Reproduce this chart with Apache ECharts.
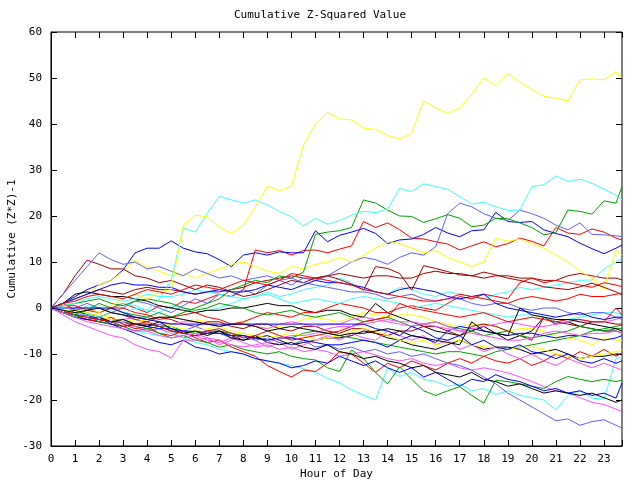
<!DOCTYPE html>
<html><head><meta charset="utf-8">
<script src="https://cdn.jsdelivr.net/npm/echarts@6/dist/echarts.min.js"></script>
<style>html,body{margin:0;padding:0;background:#fff}#c{width:640px;height:480px}</style>
</head><body><div id="c"></div>
<script>
const hours = [0,0.5,1,1.5,2,2.5,3,3.5,4,4.5,5,5.5,6,6.5,7,7.5,8,8.5,9,9.5,10,10.5,11,11.5,12,12.5,13,13.5,14,14.5,15,15.5,16,16.5,17,17.5,18,18.5,19,19.5,20,20.5,21,21.5,22,22.5,23,23.5,23.75];
const xTickLabels = ['0','1','2','3','4','5','6','7','8','9','10','11','12','13','14','15','16','17','18','19','20','21','22','23'];
const yTickLabels = ['-30','-20','-10','0','10','20','30','40','50','60'];

const yellowTop = [0,-0.5,-1,0,-1,0.5,2,3,2,3.5, 4,18,20.2,19.8,17.5,16.2,18,22,26.5,25.5, 26.4,35.4,40,42.5,41.1,40.9,39.1,38.8,37.5,36.7, 38,45,43.5,42.3,43.5,46.5,50,48.3,51,49, 47.5,46,45.6,45,49.6,49.8,49.6,51.4,50];
const cyanTop = [0,-0.5,-1,-1.5,-2,-1,-1.5,0,-0.5,2, 6,17.4,16.5,20.6,24.3,23.5,22.8,23.5,22.4,21, 19.8,17.8,19.5,18.2,19,20.2,21,20.7,21.5,26, 25.3,27,26.4,25.8,24.2,22.6,23,22,21.2,21.3, 26.4,26.8,28.7,27.5,28,27.1,25.8,24.5,23.5];
const greenTop = [0,-1,-1.5,-0.5,1,0,-1,-1.5,-2,-1, -2,-1,0,1,2,4,5,6,5.5,7, 6.5,7.8,16,16.5,16.8,17.5,23.5,22.8,21.3,20, 19.9,18.6,19.4,20.3,19.5,17.7,18,19.5,19.4,18.5, 17.5,15.9,16.4,21.3,21,20.4,23.3,22.8,26.4];
const blueA = [0,1,2.5,4,5,6,8.3,12,13,13, 14.6,13,12.2,11.8,10.5,9,11.5,12,11.5,12.2, 12,12,16.8,14.4,15.8,16.5,17.3,16.2,14,14.8, 15,16,17.5,16.3,15.5,16.8,17,20.8,18.8,18.6, 18.8,17,16.2,15.5,14.1,12.9,11.8,13,13.7];
const slateB = [0,-1,0,1,0,-1,0,1.5,1,0, -1,0.5,2,1,3,2.5,4,3,5,6, 5,6.5,6,7,8.5,10,11,10.5,9.5,11, 12,11.5,13.3,20.5,22.8,22,20.5,19.5,19,21.3, 20.5,19.5,18,17,18.5,16,15.9,15.7,15.5];
const redA = [0,1,-0.5,0,-1,0,1,0,-1,0.5, 0,1.5,1,2,3,2.5,3.9,12.6,12,12.5, 11.5,12.5,12.6,12,12.8,13.5,18.8,17.5,18.5,17, 15.2,15,14.4,13.9,12.6,13.5,14.4,13.3,14,15.2, 14.5,13.5,17.5,16.3,16,17.2,16.5,15.2,14.8];
const darkRedA = [0,3,7,10.4,9.5,8.5,8.5,7,6.5,5.5, 6,5,4,5,4.5,3.5,2.5,3,4,5, 6,5.5,6.5,7,6.2,5.2,3.9,9,8.6,7.5, 3.9,9.2,8.6,7.9,7.2,7,7.8,7.2,6.5,6, 5.4,4.6,4.3,4,4.6,5.4,4.5,3.5,2.8];
const blueFlat = [0,0,0,0,0,0,-1,-2,-2.5,-3, -3.5,-3.5,-3.5,-3.5,-3.5,-3.5,-3.5,-3.5,-3.5,-3.5, -3.5,-3.5,-3.5,-3.5,-3.5,-3.5,-3.5,-4.5,-5,-6, -4,-5,-6.5,-7,-6,-8,-7,-8.5,-9,-8, -9.5,-10,-11,-10,-11.5,-12,-11,-12,-11.5];
const redLow = [0,-1,-1.5,-2.5,-3,-2,-3.5,-4.5,-4,-5.5, -6,-5,-6.5,-7.5,-7,-8.5,-9.5,-10.5,-12.5,-13.8, -15,-13.5,-13.8,-12,-9.5,-10,-12,-14,-12,-13, -11.5,-12.5,-13.5,-12,-11,-12,-10.5,-11.5,-12,-11, -12.5,-11.5,-10,-11,-9.5,-10.5,-9,-10.5,-9.8];
const cyanLow = [0,-0.5,-1.5,-2,-3,-2.5,-4,-5,-5.5,-6, -5,-6.5,-7.5,-8,-9,-9.5,-10,-11,-11.5,-12, -12.5,-13.2,-14,-15.3,-16.3,-17.8,-19,-20,-13,-14.9, -14,-15.5,-16,-17,-16.5,-18,-17.5,-18.8,-18,-19, -19.5,-20,-22.2,-19,-18,-19.6,-19.8,-11,-10.6];
const greenLow = [0,-1,-2,-1.5,-3,-3.5,-4,-5,-4.5,-5.5, -6.5,-6,-7,-7.5,-8.5,-8,-9,-9.5,-10,-9.5, -10.5,-11,-11.3,-13,-13.8,-9.1,-11,-14,-16.5,-12.8, -15.5,-18,-19,-18,-17.1,-19,-20.7,-15.7,-16,-16.5, -17,-17.5,-16,-14.9,-15.5,-16,-15.5,-16,-15.7];
const magentaLow = [0,-1,-1.5,-2,-3,-2.5,-3.5,-4,-5,-4.5, -5.5,-6.5,-6,-7,-7.5,-6.5,-7.5,-8.5,-8,-9, -8.5,-9.5,-9,-9.5,-10.5,-10,-9.5,-10.2,-11,-11.5, -11,-12,-12.5,-12,-13,-13.5,-13,-13.5,-14.1,-15, -16,-17.1,-18,-18.5,-19.5,-20.5,-21,-22,-22.5];
const magenta2 = [0,-1.5,-3,-4,-5,-6,-6.5,-8,-9,-9.5, -10.9,-7,-7,-6.5,-8,-7,-6,-7,-8.5,-7.5, -9,-8,-7,-6,-7,-5.5,-6.5,-7,-5,-6, -7,-6,-8,-7,-9,-8,-9.5,-8.5,-10,-11, -10,-11.5,-12.5,-11,-12,-13,-12,-13,-13.5];
const slateLow = [0,-0.5,-1.5,-1,-2,-3,-2.5,-3.5,-4,-3.5, -4.5,-5,-4,-5,-5.5,-6.5,-6,-7,-6.5,-7.5, -8,-7,-8.5,-8,-9,-8.5,-9.5,-9,-10,-9.5, -10.5,-10,-11,-12,-12.5,-13.5,-15,-16.5,-18.5,-20, -21.5,-23,-24.5,-24.1,-25.5,-24.7,-24.3,-25.5,-26.1];
const blackLow = [0,-1,-0.5,-1.5,-2,-3,-2.5,-3.5,-4,-3, -4.5,-5.5,-5,-6,-5,-6.5,-7,-6,-7.5,-8, -7.5,-8.5,-9,-8,-9.5,-10,-11,-10.5,-11.5,-12, -13,-12.5,-14,-14.5,-15,-14,-15.5,-16,-17,-16.5, -17.5,-18.5,-18,-18.5,-19,-18.5,-19.5,-20.5,-20];
const blueLow = [0,-1,-2,-2.5,-2,-3.5,-4.5,-5.5,-6.5,-7.5, -8,-7,-8.5,-9,-10,-9.5,-10,-11,-11.5,-12, -13,-12.5,-11.5,-12,-10.5,-11.5,-12.5,-11.5,-13,-14, -13,-15,-14,-15.5,-17,-15.5,-16,-14.5,-15.5,-16, -17,-18,-17.5,-18.5,-18,-19,-18.5,-19.6,-16.3];
const cyan2 = [0,-0.5,-1,0.5,0,-0.5,1,0.5,-0.5,-1, 0.5,0,-1,-0.5,0,1,2,2.5,3.5,2.5, 3,4,4.5,5,6.5,5.5,4,3.5,3,4.5, 4,3,2.5,3.5,3,2.5,2,3,3.5,4.5, 4,4.5,5,5.5,6,6.1,8.5,10,10.8];
const yellow2 = [0,1,2,3,5,6,8,10.4,9,8, 7,7.5,6.5,7.5,8.5,9.5,10,9,8,7.5, 9,8.5,9.5,10,11,10,11.5,13,14.5,14, 13,12,12.5,11,10,9,10,15.2,14.5,15, 14,13,11.5,10,8,6.5,4,12.6,11.5];
const redMid = [0,0.5,0.5,-0.5,-1,0,0,-1,-1.5,-2.5, -2,-1.5,-1,-2,-2.5,-3.5,-3,-2,-1,-1.5, -2,-1,-1,0,1,0.5,0,-1,-1,0, 0.5,0,-0.5,1,2.5,2,3,2.5,2,5.5, 6.5,5.5,6,5.5,5,4.5,5.5,5,4.6];
const darkRed2 = [0,1,2,3,4,3.5,3,4,4.5,4, 4,3.5,3,3.5,3.5,4,4.5,5.5,6,6.5, 7,6.5,6.5,7,7.5,7,6.5,7,7,6.5, 6.5,7.5,8,7.5,7.5,7,6.5,7,7,6.5, 6.5,6,6,7,7.5,7,6.5,6.5,6.1];
const darkRed3 = [0,-0.5,-1,-1.5,-2,-1,-1.5,-2.5,-3,-2, -2.5,-3.5,-4,-3,-3,-4,-4.5,-3.5,-3.5,-4.5, -5,-4,-4,-5,-5.5,-4.5,-4.5,-5.5,-6,-5, -5,-4,-4,-5,-6,-4,-3.5,-4,-5,-6, -7,-2,-3,-3.5,-4,-3,-3,-3.5,-3.5];
const black1 = [0,1,3,3.5,3,2.5,2.5,2,1.5,0.5, 0,-0.5,-1,-0.5,-0.5,0,0,0.5,1,0.5, 0.5,-0.5,-1,-0.5,-0.5,-1.5,-2,1,-1,-2, -3,-4,-5,-5.5,-6,-5,-4,-5.5,-7,-6, -5,-2,-3.5,-3,-4,-4.5,-5,-5,-5.4];
const black2 = [0,-0.5,-1,-0.5,0,-1,-1.5,-2,-2.5,-2, -2,-2.5,-3,-3.5,-4,-3.5,-3.5,-4,-5,-4.5, -4,-4.5,-5,-5.5,-6,-5.5,-5.5,-5,-4.5,-5, -6,-6.5,-7,-7.5,-8,-3,-5,-5.5,-6,0, -1.5,-2,-2.5,-2.5,-3,-3.5,-4,-4.5,-5];
const black3 = [0,-1,-2,-2.5,-3,-3.5,-4,-3.5,-3.5,-4, -5,-5.5,-6,-5.5,-5,-6,-7,-6.5,-6,-7, -8,-7.5,-7,-6.5,-6.5,-6,-5,-5.5,-6.5,-7, -8,-8.5,-9,-8,-7,-8,-9,-8.5,-8.5,-9, -10,-9.5,-9,-10,-11,-10.5,-10.5,-10,-10];
const magenta3 = [0,-0.5,-1,-1.5,-2,-2.5,-2.5,-2,-2,-3, -3.5,-3,-3,-3.5,-4,-3.5,-3.5,-4,-4.5,-3.5, -3,-3.5,-4,-3.5,-3.5,-2.5,-2,-2.5,-3,-3.5, -4,-3.5,-3,-4,-5,-4.5,-4,-3.5,-3,-3.5, -4,-4,-3.5,-3,-2.5,-3,-3,-2.5,-1.9];
const magenta4 = [0,-1,-2,-3,-3.5,-4,-4.5,-5,-5,-6, -6.5,-6,-5.5,-6.5,-7,-8,-8.5,-8,-7.5,-6.5, -6,-6,-5.5,-4.5,-4,-4,-3.5,-3,-2.5,-3, -3,-3.5,-4,-4.5,-5,-5.5,-6,-6.5,-7,-7, -6.5,-5.5,-5,-5.5,-6,-5.5,-5.5,-5,-5.4];
const greenMid1 = [0,-1,-1.5,-2,-2.5,-3,-3,-4,-4.5,-4, -4,-5,-5.5,-5,-5,-5.5,-6,-6.5,-7,-6.5, -6.5,-5.5,-5,-5.5,-6,-6.5,-7,-7.5,-8,-8.5, -9,-9.5,-10,-9.5,-9.5,-10,-10.5,-9.5,-9,-8.5, -8,-7.5,-7,-6.5,-6,-5,-4.5,-4,-3.7];
const greenMid2 = [0,0.5,1,1.5,2,1,0.5,1.5,2,1.5, 1,0,-0.5,0,1,0.5,0,-1,-1.5,-1, -0.5,-1.5,-2,-1.5,-1,-2,-3,-2.5,-2,-3, -4,-3.5,-3,-4,-4.5,-5,-6,-5.5,-5,-6, -6.5,-6,-5.5,-5,-4,-4.5,-5,-4.5,-4.5];
const redLow2 = [0,-0.5,-1.5,-2,-2.5,-3,-4,-3.5,-3,-4, -5,-5.5,-6,-5,-4.5,-5.5,-6.5,-6,-5,-6, -7,-6.5,-6,-5.5,-5,-4,-3,-2.5,-2,1, 0,-0.5,-1,-1.5,-2,-1.5,-1,-2,-3,-2.5, -2,-2.5,-3,-2.5,-2.5,-3,-3,0,-1.5];
const red3 = [0,1,1.5,2.5,3,2.5,2,3,4,3.5, 3,4,5,4.5,4,5,6,5.5,5,6, 7.5,7,6.5,6,5.5,5,4,3.5,3,2.5, 2,1.5,1.5,2,3,2.5,2,1.5,1,2, 2.5,2,1.5,2,3,2.5,2.5,3,3.3];
const blueMid = [0,-0.5,-1,-1.5,-2.5,-3,-3,-3.5,-4,-4.5, -4.5,-5,-5,-5.5,-5.5,-6,-6,-6.5,-7,-6.5, -6.5,-7,-7.5,-8,-8,-7.5,-7,-7.5,-8.5,-7, -6,-6.5,-7.5,-5,-4,-4.5,-5,-5.5,-6,-5.5, -5.5,-6,-6.5,-6,-6,-6.5,-7,-6.5,-6];
const blueMid2 = [0,1,2,3,4,5,5.5,5,5,4.5, 4.5,3.5,3,3.5,4,3.5,3.5,4,5,4.5, 4,5,6,5.5,5.5,5,4.5,3.5,3,4, 4.5,4,3.5,2.5,2,2.5,3,1,0,-0.5, -1,-1.5,-2,-1.5,-1,-2,-2.5,-2,-2];
const slateMid = [0,3,6,9,12,10.5,9.5,10,8.5,9, 8,7,8.5,7.5,6.5,7,6,6.5,7,6, 6.5,5.5,5,4.5,4,3.5,3.5,3,2,2.5, 3,2,1.5,2,2,1,0.5,1,1,0, -0.5,0,0,-1,-1.5,-1,-1,-2,-2.5];
const cyan3 = [0,0.5,1,2,2.5,2,1.5,2,3,2.5, 2.5,3,4,3.5,3,2.5,2,2.5,3,2, 1,1.5,2,1.5,1,2,2.5,2,1.5,1, 0,0.5,1,0.5,0,-0.5,-1,-1.5,-2,-1.5, -1.5,-2,-3,-2.5,-2,-1.5,-1,-1,-1.5];
const yellow3 = [0,-0.5,-1,-1.5,-1.5,-2,-3,-2.5,-2,-3, -3.5,-3,-2.5,-3,-4,-3.5,-3,-4,-4.5,-4, -3.5,-2.5,-2,-2.5,-3,-2,-1,-1.5,-2,-1.5, -1.5,-2,-3,-3.5,-4,-3.5,-3.5,-4,-5,-4.5, -4.5,-5,-6,-6.5,-7,-8,-6.5,-7,-7];
const yellow4 = [0,-0.5,-0.5,-1,-2,-2.5,-3,-3,-2.5,-3, -4,-4.5,-5,-4.5,-4,-5,-5.5,-6,-6.5,-6, -5.5,-6,-7,-6.5,-6,-5,-4.5,-5,-6,-7, -7.5,-7,-8,-7.5,-7,-8,-8.5,-8.5,-9,-8.5, -8.5,-9,-10,-10.5,-11,-10.5,-10,-9.5,-9];

const C = {red:'#ff0000', green:'#00a000', blue:'#0000ff', magenta:'#ff50ff', cyan:'#40ffff', yellow:'#ffff00', black:'#000000', darkred:'#a00000', slate:'#6060ff'};

const seriesList = [
  ['redA', redA, C.red], ['greenMid1', greenMid1, C.green], ['blueA', blueA, C.blue], ['magentaLow', magentaLow, C.magenta],
  ['cyanLow', cyanLow, C.cyan], ['yellow3', yellow3, C.yellow], ['black3', black3, C.black], ['darkRed2', darkRed2, C.darkred],
  ['slateB', slateB, C.slate], ['redLow', redLow, C.red], ['greenLow', greenLow, C.green], ['blueLow', blueLow, C.blue],
  ['magenta2', magenta2, C.magenta], ['cyan2', cyan2, C.cyan], ['yellow2', yellow2, C.yellow], ['black1', black1, C.black],
  ['darkRed3', darkRed3, C.darkred], ['slateLow', slateLow, C.slate], ['redMid', redMid, C.red], ['greenMid2', greenMid2, C.green],
  ['blueMid', blueMid, C.blue], ['magenta3', magenta3, C.magenta], ['cyan3', cyan3, C.cyan], ['yellow4', yellow4, C.yellow],
  ['blackLow', blackLow, C.black], ['darkRedA', darkRedA, C.darkred], ['slateMid', slateMid, C.slate], ['redLow2', redLow2, C.red],
  ['greenTop', greenTop, C.green], ['blueMid2', blueMid2, C.blue], ['magenta4', magenta4, C.magenta], ['cyanTop', cyanTop, C.cyan],
  ['yellowTop', yellowTop, C.yellow], ['black2', black2, C.black], ['red3', red3, C.red], ['blueFlat', blueFlat, C.blue]
];

const FONT = 'DejaVu Sans Mono';
const txt = {fontFamily: FONT, fontSize: 11, color: '#000', fontWeight: 'normal'};
const tickStyle = {show: true, inside: true, length: 6, lineStyle: {color: '#000', width: 1}};

const chart = echarts.init(document.getElementById('c'), null, {renderer: 'canvas'});
chart.setOption({
  animation: false,
  backgroundColor: '#fff',
  title: {text: 'Cumulative Z-Squared Value', left: 'center', top: 10, padding: 0, textStyle: txt},
  grid: {left: 51, right: 18, top: 32, bottom: 34, containLabel: false, outerBoundsMode: 'none',
         show: true, borderColor: '#000', borderWidth: 1, backgroundColor: 'transparent'},
  xAxis: [
    {type: 'value', position: 'bottom', min: 0, max: 23.75, interval: 1,
     axisLine: {show: true, onZero: false, lineStyle: {color: '#000', width: 1}},
     axisTick: tickStyle,
     axisLabel: {margin: 8, ...txt, formatter: v => { const i = xTickLabels.indexOf(String(v)); return i >= 0 ? xTickLabels[i] : ''; }},
     splitLine: {show: false},
     name: 'Hour of Day', nameLocation: 'middle', nameGap: 23, nameMoveOverlap: false, nameTextStyle: txt},
    {type: 'value', position: 'top', min: 0, max: 23.75, interval: 1,
     axisLine: {show: false, onZero: false}, axisTick: tickStyle,
     axisLabel: {show: false}, splitLine: {show: false}}
  ],
  yAxis: [
    {type: 'value', position: 'left', min: -30, max: 60, interval: 10,
     axisLine: {show: true, onZero: false, lineStyle: {color: '#000', width: 1}},
     axisTick: tickStyle,
     axisLabel: {margin: 9, ...txt, formatter: v => { const i = yTickLabels.indexOf(String(v)); return i >= 0 ? yTickLabels[i] : ''; }},
     splitLine: {show: false},
     name: 'Cumulative (Z*Z)-1', nameLocation: 'middle', nameGap: 33, nameMoveOverlap: false, nameRotate: 90, nameTextStyle: txt},
    {type: 'value', position: 'right', min: -30, max: 60, interval: 10,
     axisLine: {show: false, onZero: false}, axisTick: tickStyle,
     axisLabel: {show: false}, splitLine: {show: false}}
  ],
  series: seriesList.map(([name, vals, color]) => ({
    name, type: 'line', xAxisIndex: 0, yAxisIndex: 0,
    data: hours.map((h, i) => [h, vals[i]]),
    showSymbol: false, symbol: 'none', silent: true,
    lineStyle: {color, width: 1}, itemStyle: {color}
  }))
});
</script>
</body></html>
